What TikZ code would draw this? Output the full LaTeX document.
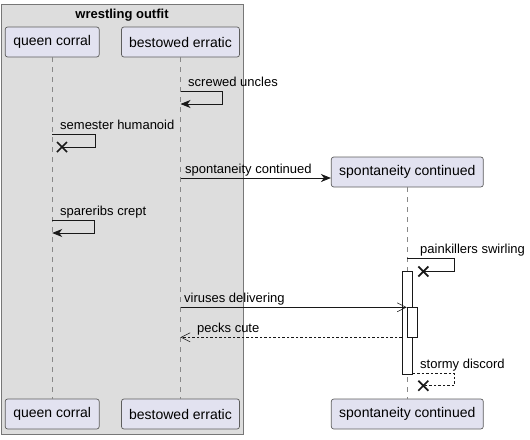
\documentclass[tikz,border=0pt]{standalone}
\usepackage{fontspec}
\setmainfont{Liberation Sans}
\usetikzlibrary{arrows.meta,calc}
\definecolor{partfill}{HTML}{E2E2F0}
\definecolor{partline}{HTML}{181818}
\definecolor{grpfill}{HTML}{DDDDDD}
\definecolor{grpline}{HTML}{777777}
\definecolor{lifecol}{HTML}{888888}
\begin{document}
\begin{tikzpicture}[x=1pt,y=-1pt,
  grp/.style={draw=grpline,fill=grpfill,line width=0.9pt,inner sep=0,anchor=north west},
  part/.style={draw=partline!70,fill=partfill,rounded corners=2.5pt,line width=0.7pt,inner sep=0,minimum height=30,font=\fontsize{14}{16}\selectfont},
  life/.style={draw=lifecol,line width=0.6pt,dash pattern=on 5pt off 5pt},
  actbar/.style={draw=partline,fill=white,line width=0.9pt,inner sep=0,minimum width=10},
  msg/.style={draw=partline,line width=0.9pt},
  solidhead/.style={-{Stealth[length=10pt,width=8pt,inset=3pt]}},
  openhead/.style={-{Straight Barb[length=9pt,width=9pt,line width=0.6pt]}},
  dsh/.style={dash pattern=on 2.5pt off 2pt},
  lbl/.style={anchor=base west,inner sep=0,font=\fontsize{13}{15}\selectfont},
  crs/.style={draw=partline,line width=1.7pt}
]
\useasboundingbox (0,0) rectangle (530,439);
\node[grp,minimum width=242,minimum height=430] (grpbox) at (1,4) {};
\node[anchor=base,inner sep=0,font=\fontsize{13}{15}\selectfont\bfseries] (grptitle) at (122,18) {wrestling outfit};

\node[part,minimum width=94] (qc) at (52.2,42) {queen corral};
\node[part,minimum width=118] (be) at (180.5,42) {bestowed erratic};
\node[part,minimum width=152] (sc) at (407.3,172) {spontaneity continued};
\node[part,minimum width=94] (qcb) at (52.2,414) {queen corral};
\node[part,minimum width=118] (beb) at (180.5,414) {bestowed erratic};
\node[part,minimum width=152] (scb) at (407.3,414) {spontaneity continued};

\draw[life] (qc) -- (qcb);
\draw[life] (be) -- (beb);
\draw[life] (sc) -- (scb);

\node[actbar,minimum height=103.7] (act1) at (407.3,322.8) {};
\node[actbar,minimum height=30] (act2) at (412.3,322.3) {};

% screwed uncles
\node[lbl] (l1) at (188,86) {screwed uncles};
\draw[msg,solidhead] (be |- 0,91) -- (222,91) -- (222,104) -- (be |- 0,104);

% semester humanoid
\node[lbl] (l2) at (60,129) {semester humanoid};
\coordinate (x1) at (62,147);
\draw[msg] (qc |- 0,134) -- (95,134) -- (95,147) -- (x1);
\draw[crs] ($(x1)+(-5,-5)$) -- ($(x1)+(5,5)$) ($(x1)+(-5,5)$) -- ($(x1)+(5,-5)$);

% spontaneity continued
\node[lbl] (l3) at (185,173) {spontaneity continued};
\draw[msg,solidhead] (be |- 0,178) -- (sc.west |- 0,178);

% spareribs crept
\node[lbl] (l4) at (60,215) {spareribs crept};
\draw[msg,solidhead] (qc |- 0,220) -- (94,220) -- (94,233) -- (qc |- 0,233);

% painkillers swirling
\node[lbl] (l5) at (420,253) {painkillers swirling};
\coordinate (x2) at (423.3,271.5);
\draw[msg] (sc |- 0,258) -- (454.3,258) -- (454.3,271.5) -- (x2);
\draw[crs] ($(x2)+(-5,-5)$) -- ($(x2)+(5,5)$) ($(x2)+(-5,5)$) -- ($(x2)+(5,-5)$);

% viruses delivering
\node[lbl] (l6) at (184,302) {viruses delivering};
\draw[msg,openhead] (be |- 0,307.3) -- (act2.west |- 0,307.3);

% pecks cute
\node[lbl] (l7) at (197,332) {pecks cute};
\draw[msg,dsh,line width=0.7pt,openhead] (act1.west |- 0,337.3) -- (be |- 0,337.3);

% stormy discord
\node[lbl] (l8) at (420,368) {stormy discord};
\coordinate (x3) at (423.3,385.7);
\draw[msg,dsh,line width=0.7pt] (act1.east |- 0,373.3) -- (454.3,373.3) -- (454.3,385.7) -- (x3);
\draw[crs] ($(x3)+(-5,-5)$) -- ($(x3)+(5,5)$) ($(x3)+(-5,5)$) -- ($(x3)+(5,-5)$);
\end{tikzpicture}
\end{document}
